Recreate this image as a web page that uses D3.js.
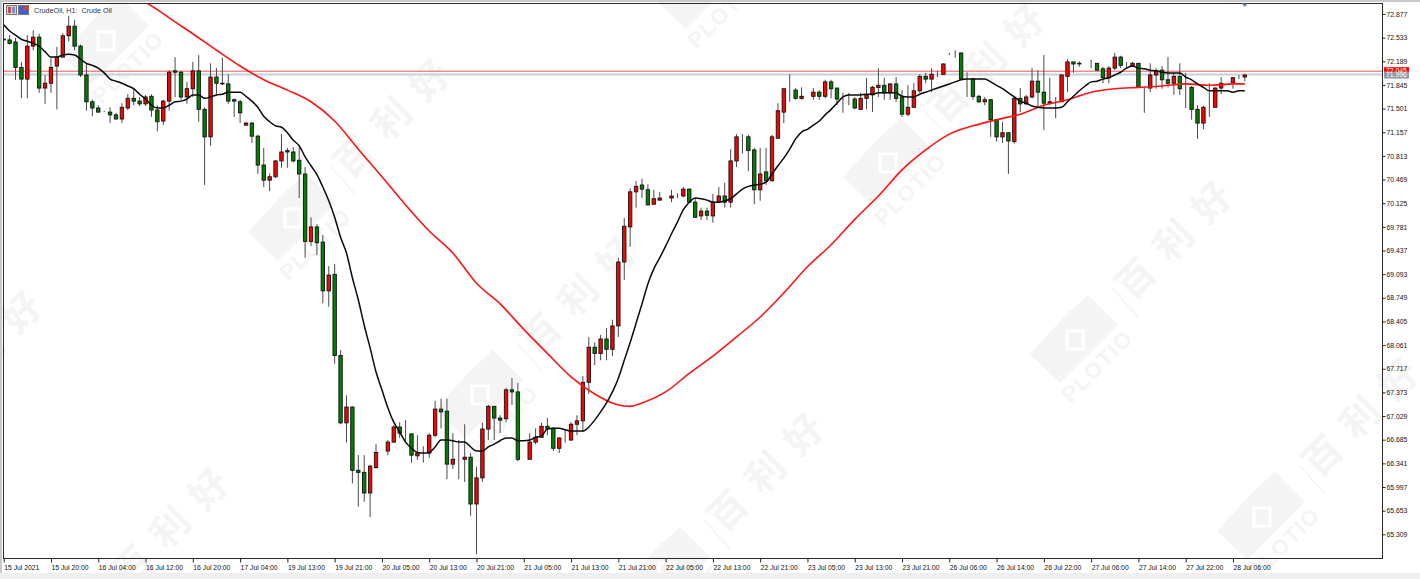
<!DOCTYPE html>
<html><head><meta charset="utf-8">
<script src="https://cdnjs.cloudflare.com/ajax/libs/d3/7.8.5/d3.min.js"></script>
<style>html,body{margin:0;padding:0;background:#fff;overflow:hidden}svg{display:block}</style>
</head><body><div id="chart"></div>
<script>
const opens=[72.51,72.50,72.47,72.10,71.93,72.41,72.54,71.80,71.87,72.12,
72.25,72.56,72.70,72.41,71.99,71.60,71.51,71.47,71.45,71.41,
71.35,71.51,71.65,71.61,71.57,71.68,71.48,71.32,71.61,72.05,
72.03,71.67,71.79,72.05,71.49,71.09,71.96,71.87,71.86,71.63,
71.60,71.26,71.29,71.10,70.68,70.46,70.51,70.74,70.89,70.87,
70.75,70.55,69.57,69.78,69.56,68.85,69.09,67.91,66.93,67.16,
66.24,66.21,65.91,66.28,66.50,66.52,66.65,66.87,66.78,66.77,
66.45,66.49,66.49,66.75,67.13,67.10,66.33,66.40,66.40,66.43,
65.75,66.13,66.84,67.17,67.00,66.99,67.41,67.38,66.40,66.40,
66.65,66.72,66.88,66.85,66.56,66.69,66.68,66.91,66.96,67.52,
68.03,67.94,68.15,68.00,68.34,69.27,69.78,70.29,70.39,70.32,
70.11,70.17,70.21,70.20,70.21,70.23,70.33,70.14,69.94,70.01,
69.94,70.14,70.23,70.14,70.74,71.09,71.09,70.90,70.32,70.58,
70.45,71.07,71.45,71.77,71.77,71.65,71.70,71.68,71.74,71.68,
71.89,71.80,71.65,71.65,71.64,71.49,71.65,71.70,71.81,71.84,
71.73,71.86,71.67,71.42,71.52,71.76,71.97,71.93,72.00,72.00,
72.29,72.29,72.31,71.93,71.93,71.68,71.60,71.63,71.34,71.09,
71.15,71.02,71.65,71.57,71.67,71.90,71.74,71.58,71.60,71.60,
71.97,72.18,72.15,72.16,72.16,72.16,72.08,71.95,72.09,72.25,
72.15,72.12,72.16,71.80,71.80,71.99,72.06,71.92,71.87,71.97,
71.80,71.81,71.49,71.29,71.52,71.52,71.80,71.87,71.87,71.95,71.96];
const closes=[72.50,72.45,72.10,71.93,72.41,72.54,71.80,71.87,72.10,72.25,
72.56,72.70,72.41,71.99,71.60,71.51,71.45,71.47,71.41,71.35,
71.52,71.65,71.61,71.57,71.67,71.48,71.31,71.61,72.03,72.03,
71.67,71.79,72.05,71.49,71.09,71.96,71.87,71.86,71.61,71.61,
71.44,71.29,71.10,70.68,70.46,70.51,70.74,70.87,70.87,70.74,
70.55,69.57,69.78,69.55,68.85,69.08,67.91,66.93,67.16,66.24,
66.21,65.91,66.30,66.50,66.50,66.65,66.87,66.78,66.78,66.46,
66.49,66.49,66.75,67.13,67.09,66.33,66.40,66.40,66.43,65.75,
66.13,66.84,67.17,67.00,66.97,67.41,67.38,66.40,66.40,66.65,
66.72,66.88,66.85,66.56,66.71,66.69,66.91,66.96,67.52,68.03,
67.94,68.15,68.00,68.34,69.27,69.79,70.29,70.37,70.33,70.10,
70.19,70.20,70.21,70.23,70.21,70.33,70.14,69.92,70.01,69.95,
70.14,70.23,70.14,70.74,71.09,71.09,70.89,70.32,70.55,70.45,
71.09,71.47,71.79,71.77,71.65,71.68,71.70,71.74,71.68,71.89,
71.79,71.64,71.65,71.65,71.51,71.65,71.70,71.81,71.84,71.73,
71.86,71.65,71.42,71.52,71.76,71.97,71.93,72.00,72.00,72.15,
72.29,72.29,71.93,71.93,71.68,71.60,71.63,71.34,71.09,71.15,
71.03,71.65,71.57,71.67,71.90,71.74,71.58,71.60,71.60,71.99,
72.18,72.15,72.16,72.16,72.16,72.06,71.95,72.09,72.25,72.13,
72.15,72.16,71.81,71.80,71.99,72.05,71.92,71.87,71.97,71.79,
71.80,71.49,71.29,71.52,71.52,71.80,71.87,71.87,71.95,71.95,71.99];
const highs=[72.53,72.57,72.53,72.18,72.57,72.64,72.59,71.99,72.24,72.40,
72.60,72.85,72.79,72.43,72.16,71.63,71.55,71.47,71.52,71.44,
71.58,71.71,71.79,71.67,71.70,71.71,71.55,71.63,72.06,72.25,
72.05,71.89,72.18,72.28,71.52,72.16,72.09,72.24,72.00,71.65,
71.63,71.31,71.31,71.12,70.93,70.56,70.75,71.13,70.93,70.94,
70.94,70.65,69.92,69.82,69.66,69.21,69.24,67.99,67.33,67.17,
66.46,66.46,66.32,66.62,66.50,66.68,66.90,66.94,66.97,66.77,
66.75,66.59,66.78,67.25,67.28,67.28,66.78,66.68,66.91,66.49,
66.29,66.93,67.19,67.17,67.04,67.44,67.58,67.51,66.40,66.78,
66.85,66.93,67.00,66.87,66.72,66.83,66.94,67.04,67.61,68.18,
68.10,68.21,68.31,68.43,69.33,69.91,70.34,70.45,70.48,70.40,
70.32,70.29,70.21,70.32,70.27,70.36,70.34,70.20,70.06,70.06,
70.26,70.36,70.42,70.91,71.13,71.13,71.12,70.93,70.93,70.93,
71.12,71.58,71.79,72.00,71.80,71.81,71.70,71.80,71.77,71.92,
71.92,71.80,71.73,71.73,71.67,71.73,71.95,71.83,72.09,71.95,
71.87,71.96,71.77,71.84,71.87,72.00,72.02,72.09,72.05,72.16,
72.31,72.35,72.32,72.03,71.95,71.70,71.67,71.64,71.34,71.31,
71.15,71.67,71.80,71.70,72.09,72.06,72.28,71.95,71.67,72.00,
72.22,72.18,72.19,72.16,72.21,72.16,72.11,72.12,72.31,72.27,
72.18,72.18,72.16,71.81,72.16,72.09,72.12,72.25,72.02,72.16,
72.02,71.83,71.55,71.54,71.87,71.81,71.96,71.87,71.96,71.99,72.00];
const lows=[72.50,72.43,71.92,71.65,71.65,72.35,71.73,71.57,71.73,71.49,
72.24,72.48,72.35,71.96,71.47,71.39,71.44,71.45,71.29,71.34,
71.29,71.48,71.55,71.54,71.54,71.38,71.17,71.26,71.47,71.67,
71.63,71.57,71.67,71.31,70.39,70.96,71.71,71.84,71.57,71.38,
71.29,71.26,71.00,70.55,70.36,70.30,70.49,70.64,70.64,70.72,
70.20,69.33,69.50,69.37,68.67,68.62,67.79,66.91,66.64,66.05,
65.71,65.78,65.56,66.26,66.50,66.46,66.64,66.71,66.65,66.35,
66.39,66.35,66.42,66.72,66.85,66.11,66.26,66.11,66.07,65.58,
65.02,66.07,66.68,66.68,66.78,66.94,67.19,66.37,66.40,66.40,
66.62,66.71,66.75,66.52,66.49,66.64,66.67,66.75,66.80,67.35,
67.77,67.84,67.84,67.90,68.18,69.01,69.49,70.06,70.20,70.10,
70.10,70.16,70.21,70.14,70.20,70.21,70.13,69.92,69.88,69.88,
69.84,70.13,70.06,70.06,70.65,70.85,70.59,70.11,70.16,70.39,
70.45,71.07,71.29,71.60,71.63,71.63,71.70,71.63,71.63,71.65,
71.65,71.55,71.44,71.55,71.49,71.49,71.49,71.45,71.67,71.63,
71.63,71.60,71.38,71.39,71.52,71.73,71.87,71.74,71.96,71.99,
72.28,72.24,71.93,71.67,71.63,71.58,71.55,71.09,71.02,71.00,
70.55,70.99,71.45,71.55,71.65,71.51,71.19,71.55,71.36,71.60,
71.74,72.02,72.11,72.16,72.09,72.05,71.87,71.87,72.06,72.09,
72.09,72.11,71.80,71.44,71.74,71.79,71.79,71.81,71.70,71.70,
71.51,71.34,71.06,71.20,71.38,71.52,71.71,71.87,71.79,71.93,71.90];
const maFast=[72.72,72.63,72.57,72.51,72.48,72.45,72.41,72.33,72.25,72.25,
72.28,72.29,72.28,72.22,72.16,72.13,72.09,72.02,71.93,71.90,
71.87,71.83,71.79,71.71,71.64,71.55,71.51,71.51,71.55,71.60,
71.61,71.64,71.70,71.70,71.65,71.67,71.70,71.71,71.74,71.74,
71.74,71.68,71.61,71.52,71.39,71.31,71.25,71.23,71.15,71.04,
70.96,70.80,70.67,70.54,70.36,70.16,69.92,69.63,69.40,69.04,
68.72,68.35,68.02,67.67,67.41,67.15,66.94,66.80,66.65,66.56,
66.50,66.49,66.50,66.58,66.68,66.68,66.67,66.65,66.65,66.58,
66.52,66.52,66.58,66.62,66.67,66.71,66.71,66.67,66.67,66.68,
66.72,66.74,66.84,66.85,66.85,66.83,66.81,66.81,66.81,66.87,
66.97,67.09,67.22,67.38,67.58,67.84,68.10,68.38,68.66,68.95,
69.17,69.33,69.50,69.68,69.85,70.03,70.14,70.20,70.19,70.17,
70.14,70.14,70.16,70.19,70.26,70.33,70.37,70.39,70.40,70.43,
70.55,70.67,70.78,70.91,71.06,71.16,71.20,71.26,71.32,71.41,
71.49,71.58,71.67,71.70,71.70,71.70,71.71,71.71,71.73,71.73,
71.73,71.73,71.68,71.67,71.67,71.71,71.74,71.77,71.80,71.83,
71.86,71.89,71.92,71.93,71.93,71.93,71.93,71.89,71.84,71.79,
71.73,71.67,71.61,71.58,71.54,71.52,71.51,71.51,71.51,71.52,
71.60,71.68,71.76,71.83,71.89,71.90,71.93,71.95,71.99,72.03,
72.09,72.12,72.09,72.08,72.06,72.05,72.03,72.02,72.02,72.02,
71.96,71.92,71.86,71.81,71.76,71.76,71.76,71.76,71.74,71.76,71.76];
const maSlowBars=[24,26,28,32,36,40,44,48,52,56,60,64,68,72,76,80,84,88,92,96,100,104,106,108,112,116,120,124,128,132,136,140,144,148,152,156,160,164,168,172,176,180,184,188,192,196,200,204,208,210];
const maSlow=[73.05,72.94,72.82,72.59,72.35,72.12,71.92,71.77,71.60,71.32,70.91,70.51,70.10,69.72,69.40,68.96,68.66,68.29,67.94,67.60,67.35,67.19,67.17,67.22,67.38,67.65,67.90,68.18,68.47,68.82,69.20,69.52,69.89,70.23,70.61,70.90,71.13,71.25,71.34,71.42,71.55,71.63,71.74,71.79,71.81,71.83,71.86,71.84,71.86,71.86];
const priceTicks=[72.877,72.533,72.189,71.845,71.501,71.157,70.813,70.469,70.125,69.781,69.437,69.093,68.749,68.405,68.061,67.717,67.373,67.029,66.685,66.341,65.997,65.653,65.309];
const timeLabels=["15 Jul 2021","15 Jul 20:00","16 Jul 04:00","16 Jul 12:00","16 Jul 20:00","17 Jul 04:00","19 Jul 13:00","19 Jul 21:00","20 Jul 05:00","20 Jul 13:00","20 Jul 21:00","21 Jul 05:00","21 Jul 13:00","21 Jul 21:00","22 Jul 05:00","22 Jul 13:00","22 Jul 21:00","23 Jul 05:00","23 Jul 13:00","23 Jul 21:00","26 Jul 06:00","26 Jul 14:00","26 Jul 22:00","27 Jul 06:00","27 Jul 14:00","27 Jul 22:00","28 Jul 06:00"];
const barsPerLabel=8;
const askPrice=72.045, bidPrice=71.996;
const chartTitle="CrudeOil, H1:  Crude Oil";
const watermarkCentres=[[104,41],[291,218],[478,395],[665,572],[699,-14],[886,163],[1073,340],[1260,517],[-117,450],[70,627]];

const W=1420,H=579,L=3.5,R=1382.5,T=3.5,B=558.5;
const font='"Liberation Sans",Arial,sans-serif';
const svg=d3.select("#chart").append("svg").attr("width",W).attr("height",H).attr("viewBox",`0 0 ${W} ${H}`);
const x=d3.scaleLinear().domain([0,210]).range([3.7,1244.8]);
const y=d3.scaleLinear().domain([72.877,65.309]).range([14,534.3]);

svg.append("rect").attr("width",W).attr("height",H).attr("fill","#fff");

// watermarks
const wmFill="#f4f4f4";
const wm=svg.append("g").selectAll("g").data(watermarkCentres).join("g").attr("transform",d=>`translate(${d[0]},${d[1]})`);
wm.append("path").attr("d","M15,-45L45,-15L10,20L-13,43L-43,14L-7,-25Z").attr("fill",wmFill);
wm.append("rect").attr("x",-6).attr("y",-9).attr("width",16).attr("height",18).attr("fill",wmFill).attr("stroke","#fff").attr("stroke-width",3);
wm.append("text").attr("transform","translate(24,26) rotate(-45)").attr("text-anchor","middle").attr("dy","0.36em")
  .attr("font-family",font).attr("font-weight","bold").attr("font-size",22).attr("letter-spacing",1.5).attr("fill",wmFill).text("PLOTIO");
wm.append("line").attr("x1",39).attr("y1",-52).attr("x2",65).attr("y2",-23).attr("stroke",wmFill).attr("stroke-width",1.5);
wm.filter(d=>d[1]>0 && d[1]<600 || d[0]<100).append("text").attr("transform","translate(106,-105) rotate(-45)").attr("text-anchor","middle").attr("dy","0.36em")
  .attr("font-family",'"Noto Sans CJK SC",sans-serif').attr("font-weight","bold").attr("font-size",38).attr("letter-spacing",16).attr("fill",wmFill).text(d=>(d[1]-105<-30)?null:"百利好");

// chrome bands
svg.append("rect").attr("width",W).attr("height",2).attr("fill","#c9c9c9");
svg.append("rect").attr("width",2).attr("height",H).attr("fill","#c9c9c9");
svg.append("rect").attr("y",573).attr("width",W).attr("height",6).attr("fill","#efefef");

const defs=svg.append("defs");
defs.append("clipPath").attr("id","plot").append("rect").attr("x",L).attr("y",T).attr("width",R-L).attr("height",B-T);
const plot=svg.append("g").attr("clip-path","url(#plot)");

// ask / bid lines
plot.append("line").attr("x1",L).attr("x2",R).attr("y1",y(askPrice)).attr("y2",y(askPrice)).attr("stroke","#ee5555").attr("stroke-width",1);
plot.append("line").attr("x1",L).attr("x2",R).attr("y1",y(bidPrice)).attr("y2",y(bidPrice)).attr("stroke","#c8d0d8").attr("stroke-width",2);

// candles
const idx=d3.range(opens.length);
plot.append("g").selectAll("line").data(idx).join("line")
  .attr("x1",i=>x(i)).attr("x2",i=>x(i)).attr("y1",i=>y(highs[i])).attr("y2",i=>y(lows[i]))
  .attr("stroke","#4a4a4a").attr("stroke-width",1);
plot.append("g").selectAll("rect").data(idx).join("rect")
  .attr("x",i=>x(i)-1.7).attr("width",3.4)
  .attr("y",i=>y(Math.max(opens[i],closes[i])))
  .attr("height",i=>Math.abs(y(opens[i])-y(closes[i])))
  .attr("fill",i=>closes[i]>opens[i]?"#ff0000":closes[i]<opens[i]?"#008000":"#000")
  .attr("stroke","#111").attr("stroke-width",0.9);

// moving averages
const lineGen=d3.line().x(d=>x(d[0])).y(d=>y(d[1])).curve(d3.curveMonotoneX);
plot.append("path").attr("d",lineGen(maSlow.map((v,i)=>[maSlowBars[i],v]))).attr("fill","none").attr("stroke","#ff1414").attr("stroke-width",1.6);
plot.append("path").attr("d",lineGen(maFast.map((v,i)=>[i,v]))).attr("fill","none").attr("stroke","#0a0a0a").attr("stroke-width",1.5);

// axes
const axisY=d3.axisRight(y).tickValues(priceTicks).tickFormat(d3.format(".3f")).tickSize(3).tickPadding(1);
const gy=svg.append("g").attr("transform",`translate(${R},0)`).call(axisY);
const axisX=d3.axisBottom(x).tickValues(timeLabels.map((_,i)=>i*barsPerLabel)).tickFormat((d,i)=>timeLabels[i]).tickSize(4).tickPadding(0);
const gx=svg.append("g").attr("transform",`translate(0,${B})`).call(axisX);
gx.selectAll("text").attr("text-anchor","start").attr("dy","0").attr("y",11);
[gy,gx].forEach(g=>{g.select(".domain").remove();g.selectAll("line").attr("stroke","#222");
  g.selectAll("text").attr("font-family",font).attr("font-size",6.8).attr("fill","#111");});

svg.append("rect").attr("x",L).attr("y",T).attr("width",R-L).attr("height",B-T).attr("fill","none").attr("stroke","#2a2a2a").attr("stroke-width",1);

// price tags
const tag=(v,bg,yy,h)=>{
  svg.append("rect").attr("x",1384).attr("y",yy).attr("width",25).attr("height",h).attr("fill",bg);
  svg.append("text").attr("x",1386).attr("y",yy+h/2+2.4).attr("font-family",font).attr("font-size",6.8).attr("fill","#fff").text(v.toFixed(3));
};
tag(askPrice,"#ff0000",y(askPrice)-4,6);
tag(bidPrice,"#8c9bb0",y(bidPrice)-3,7);

// top triangle marker
svg.append("path").attr("d",d3.line()([[x(210)-3,3.5],[x(210)+3,3.5],[x(210),7]])).attr("fill","#6d7f94");

// title + icons
const ic=svg.append("g");
ic.append("rect").attr("x",6.5).attr("y",5.5).attr("width",10).attr("height",9).attr("fill","#e8c8c0").attr("stroke","#777");
ic.append("rect").attr("x",8).attr("y",7).attr("width",3).attr("height",6).attr("fill","#c05050");
ic.append("rect").attr("x",12).attr("y",7).attr("width",3).attr("height",6).attr("fill","#8090c8");
ic.append("rect").attr("x",18.5).attr("y",5.5).attr("width",10).attr("height",9).attr("fill","#4060d8").attr("stroke","#777");
ic.append("rect").attr("x",24).attr("y",6).attr("width",4.5).attr("height",4).attr("fill","#d04040");
svg.append("text").attr("x",34).attr("y",13).attr("font-family",font).attr("font-size",7.2).attr("fill","#333").attr("xml:space","preserve").text(chartTitle);
</script></body></html>
